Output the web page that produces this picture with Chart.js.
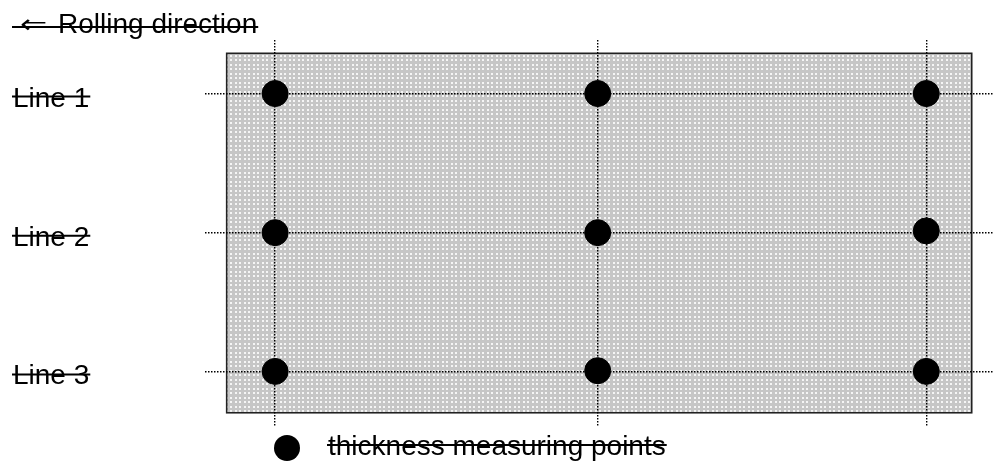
<!DOCTYPE html>
<html><head><meta charset="utf-8">
<script src="https://cdn.jsdelivr.net/npm/chart.js@4.4.1/dist/chart.umd.min.js"></script>
<style>html,body{margin:0;padding:0;background:#fff;overflow:hidden}canvas{display:block}</style>
</head><body>
<canvas id="c" width="994" height="462"></canvas>
<script>
// Positions along the rolling direction (plate edge = 0, opposite edge = 100)
const columnPositions = [6.5, 49.8, 93.9];
// Positions of the measuring lines across the plate (top edge = 0, bottom edge = 100)
const linePositions = [11.2, 49.9, 88.5];
const lineLabels = ['Line 1', 'Line 2', 'Line 3'];
// Thickness measuring points
const pointX = [6.5, 49.8, 93.9, 6.5, 49.8, 93.9, 6.5, 49.8, 93.9];
const pointY = [11.2, 11.2, 11.2, 49.9, 49.9, 49.4, 88.5, 88.3, 88.5];
// Plate extent in the same units
const plateStart = 0;
const plateEnd = 100;
const titleArrow = '\u21D0';
const titleText = 'Rolling direction';
const legendText = 'thickness measuring points';

const FONT = '28px "Liberation Sans", Arial, Helvetica, sans-serif';

function makePattern(ctx) {
  const t = document.createElement('canvas');
  t.width = 9; t.height = 9;
  const g = t.getContext('2d');
  g.fillStyle = '#c6c6c6';
  g.fillRect(0, 0, 9, 9);
  g.fillStyle = '#f5f5f5';
  [[1,1],[5,1],[1,5],[5,5]].forEach(([a,b]) => g.fillRect(a, b, 2, 2));
  return ctx.createPattern(t, 'repeat');
}

function strike(ctx, x1, x2, y) {
  ctx.save();
  ctx.strokeStyle = '#000';
  ctx.lineWidth = 2;
  ctx.beginPath();
  ctx.moveTo(x1, y); ctx.lineTo(x2, y);
  ctx.stroke();
  ctx.restore();
}

const platePlugin = {
  id: 'plate',
  beforeDraw(chart) {
    const {ctx, scales: {x, y}} = chart;
    const l = x.getPixelForValue(plateStart), r = x.getPixelForValue(plateEnd);
    const t = y.getPixelForValue(plateStart), b = y.getPixelForValue(plateEnd);
    ctx.save();
    ctx.fillStyle = makePattern(ctx);
    ctx.fillRect(l, t, r - l, b - t);
    ctx.strokeStyle = '#222';
    ctx.lineWidth = 1.6;
    ctx.strokeRect(l, t, r - l, b - t);
    ctx.restore();
  },
  afterDraw(chart) {
    const {ctx, scales: {y}} = chart;
    ctx.save();
    ctx.fillStyle = '#000';
    ctx.textBaseline = 'alphabetic';
    ctx.textAlign = 'left';
    // title
    ctx.save();
    ctx.translate(20, 33);
    ctx.scale(1.25, 1);
    ctx.font = '26px "DejaVu Sans", sans-serif';
    ctx.fillText(titleArrow, 0, 0);
    ctx.restore();
    ctx.font = FONT;
    ctx.fillText(titleText, 58, 33);
    const tw = ctx.measureText(titleText).width;
    strike(ctx, 12, 58 + tw + 1, 27);
    // line labels
    lineLabels.forEach((lab, i) => {
      const py = y.getPixelForValue(linePositions[i]);
      ctx.fillText(lab, 13, py + 13);
      const w = ctx.measureText(lab).width;
      strike(ctx, 12, 13 + w + 1, py + 3);
    });
    // legend
    const ds = chart.data.datasets[0];
    ctx.beginPath();
    ctx.arc(287, 448, 13, 0, Math.PI * 2);
    ctx.fillStyle = ds.backgroundColor;
    ctx.fill();
    ctx.fillStyle = '#000';
    ctx.fillText(ds.label, 328, 455);
    const lw = ctx.measureText(ds.label).width;
    strike(ctx, 327, 328 + lw + 1, 445);
    ctx.restore();
  }
};

const gridOpts = { color: '#000', lineWidth: 1.4, drawTicks: false, tickLength: 0 };
const borderOpts = { display: false, dash: [1.5, 1.5] };

new Chart(document.getElementById('c'), {
  type: 'scatter',
  data: {
    datasets: [{
      label: legendText,
      data: pointX.map((v, i) => ({ x: v, y: pointY[i] })),
      backgroundColor: '#000',
      borderColor: '#000',
      pointRadius: 13,
      pointHoverRadius: 13,
      pointStyle: 'circle'
    }]
  },
  options: {
    responsive: false,
    animation: false,
    devicePixelRatio: 1,
    layout: { autoPadding: false, padding: { left: 205, right: 0, top: 40, bottom: 36 } },
    plugins: { legend: { display: false }, tooltip: { enabled: false } },
    events: [],
    scales: {
      x: {
        type: 'linear', min: -2.91, max: 102.99,
        afterBuildTicks: s => { s.ticks = columnPositions.map(v => ({ value: v })); },
        ticks: { display: false },
        grid: gridOpts, border: borderOpts
      },
      y: {
        type: 'linear', reverse: true, min: -3.70, max: 103.68,
        afterBuildTicks: s => { s.ticks = linePositions.map(v => ({ value: v })); },
        ticks: { display: false },
        grid: gridOpts, border: borderOpts
      }
    }
  },
  plugins: [platePlugin]
});
</script>
</body></html>
